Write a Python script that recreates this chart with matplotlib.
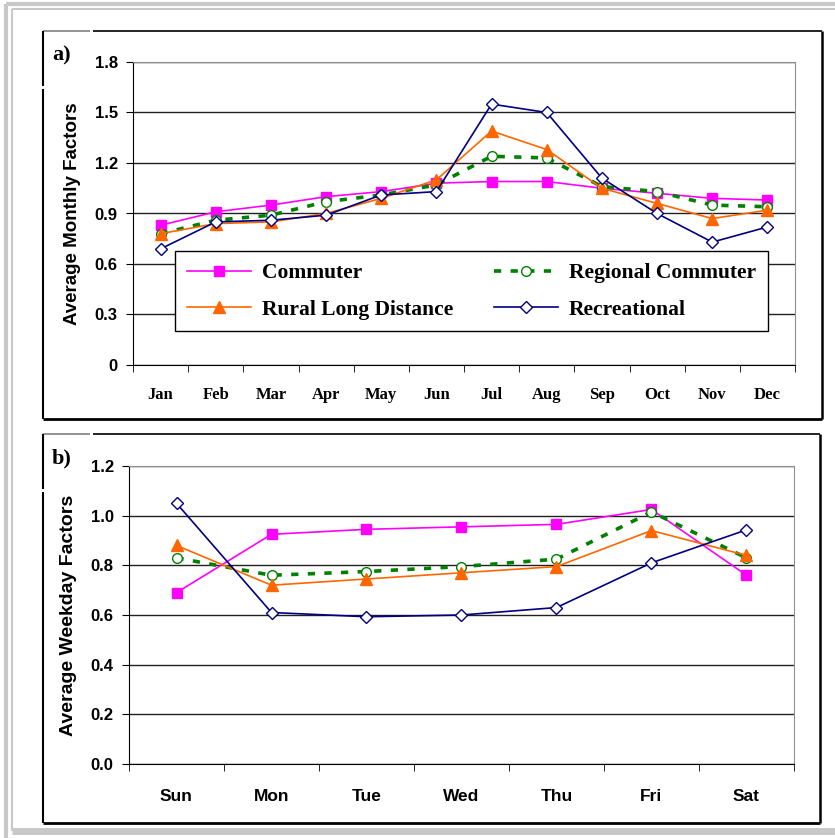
import matplotlib
matplotlib.use("Agg")
import matplotlib.pyplot as plt
from matplotlib.lines import Line2D

# monthly factors (panel a)
months = ['Jan', 'Feb', 'Mar', 'Apr', 'May', 'Jun', 'Jul', 'Aug', 'Sep', 'Oct', 'Nov', 'Dec']
commuter_m = [0.83, 0.91, 0.95, 1.00, 1.03, 1.08, 1.09, 1.09, 1.05, 1.02, 0.99, 0.98]
regional_m = [0.78, 0.86, 0.89, 0.97, 1.01, 1.07, 1.24, 1.23, 1.06, 1.03, 0.95, 0.94]
rural_m = [0.78, 0.84, 0.85, 0.90, 0.99, 1.10, 1.39, 1.28, 1.05, 0.96, 0.87, 0.92]
recreational_m = [0.69, 0.85, 0.86, 0.89, 1.01, 1.03, 1.55, 1.50, 1.11, 0.90, 0.73, 0.82]

# weekday factors (panel b)
days = ['Sun', 'Mon', 'Tue', 'Wed', 'Thu', 'Fri', 'Sat']
commuter_d = [0.69, 0.925, 0.945, 0.955, 0.965, 1.025, 0.76]
regional_d = [0.83, 0.76, 0.775, 0.795, 0.825, 1.015, 0.83]
rural_d = [0.88, 0.72, 0.745, 0.77, 0.795, 0.94, 0.84]
recreational_d = [1.05, 0.61, 0.593, 0.60, 0.63, 0.81, 0.943]

series_names = ['Commuter', 'Regional Commuter', 'Rural Long Distance', 'Recreational']

W, H = 835, 838
fig = plt.figure(figsize=(W / 100, H / 100), dpi=100)


def px_rect(left, top, right, bottom):
    return [left / W, 1 - bottom / H, (right - left) / W, (bottom - top) / H]


def fline(x0, y0, x1, y1, color='black', lw=1.0):
    fig.add_artist(Line2D([x0 / W, x1 / W], [1 - y0 / H, 1 - y1 / H],
                          transform=fig.transFigure, color=color, lw=lw,
                          solid_capstyle='butt'))


# outer gray frame
fline(6, 4, 835, 4, '#c8c8c8', 3)
fline(6, 4, 6, 838, '#c8c8c8', 3)
fline(12, 9, 835, 9, '#c8c8c8', 1.5)
fline(12, 9, 12, 831, '#c8c8c8', 1.5)
fline(12, 831, 835, 831, '#c8c8c8', 5)


def panel_box(l, t, r, b):
    fline(l, t, l + 47, t, '#808080', 1.2)
    fline(l + 50, t, r, t, 'black', 1.2)
    fline(l, t, l, t + 55, 'black', 1.5)
    fline(l, t + 58, l, b, 'black', 1.5)
    fline(r, t, r, b, 'black', 1.8)
    fline(l, b, r, b, 'black', 2)


panel_box(43, 31, 822, 419)
panel_box(43, 434, 820, 823)

sans = ['Liberation Sans Narrow', 'Liberation Sans', 'DejaVu Sans']
serif = ['Liberation Serif', 'DejaVu Serif']

styles = [
    dict(color='#ff00ff', marker='s', ms=7, mfc='#ff00ff', mec='#ff00ff', lw=1.2, ls='-'),
    dict(color='#008000', marker='o', ms=7, mfc='white', mec='#008000', lw=2.6, ls=(0, (2, 2.6))),
    dict(color='#ff6600', marker='^', ms=8, mfc='#ff6600', mec='#ff6600', lw=1.2, ls='-'),
    dict(color='#000080', marker='D', ms=6.5, mfc='white', mec='#000080', lw=1.2, ls='-'),
]


def style_axes(ax, ylim, yticks, fmt):
    ax.set_ylim(*ylim)
    ax.set_yticks(yticks)
    ax.set_yticklabels([fmt.format(v) for v in yticks], family=sans,
                       fontweight='bold', fontsize=12)
    ax.grid(axis='y', color='#202020', lw=1)
    ax.set_axisbelow(True)
    for s in ['top', 'right']:
        ax.spines[s].set_color('#909090')
    for s in ['left', 'bottom']:
        ax.spines[s].set_color('black')
    ax.tick_params(axis='y', length=5, pad=6)
    ax.tick_params(axis='x', which='major', length=0)
    ax.tick_params(axis='x', which='minor', length=5, direction='out')


# panel a
ax1 = fig.add_axes(px_rect(133, 62, 795, 365))
x1 = range(len(months))
lines = []
for vals, st, name in zip([commuter_m, regional_m, rural_m, recreational_m], styles, series_names):
    lines += ax1.plot(x1, vals, label=name, **st)
ax1.set_xlim(-0.5, len(months) - 0.5)
ax1.set_xticks(list(x1))
ax1.set_xticklabels(months, family=serif, fontweight='bold', fontsize=12)
ax1.set_xticks([i + 0.5 for i in range(-1, len(months))], minor=True)
style_axes(ax1, (0, 1.8), [0, 0.3, 0.6, 0.9, 1.2, 1.5, 1.8], '{:g}')
ax1.tick_params(axis='x', which='major', pad=16)
ax1.set_ylabel('Average Monthly Factors', family='Liberation Sans',
               fontweight='bold', fontsize=13.5, labelpad=10)
# row-major legend order: Commuter, Regional / Rural, Recreational
order = [0, 2, 1, 3]
leg = ax1.legend([lines[i] for i in order], [series_names[i] for i in order],
                 ncol=2, loc='lower left', bbox_to_anchor=(0.063, 0.111, 0.896, 0.275),
                 mode='expand', frameon=True, fancybox=False, framealpha=1,
                 edgecolor='black', handlelength=3.0, borderaxespad=0,
                 prop=dict(family=serif, weight='bold', size=15.5),
                 labelspacing=0.75, columnspacing=0.6, handletextpad=0.5,
                 borderpad=0.55)
leg.get_frame().set_linewidth(1.0)
fig.text(52 / W, 1 - 55 / H, 'a)', family=serif, fontweight='bold', fontsize=16,
         va='center', ha='left')

# panel b
ax2 = fig.add_axes(px_rect(129, 466, 794, 764))
x2 = range(len(days))
for vals, st, name in zip([commuter_d, regional_d, rural_d, recreational_d], styles, series_names):
    ax2.plot(x2, vals, label=name, **st)
ax2.set_xlim(-0.5, len(days) - 0.5)
ax2.set_xticks(list(x2))
ax2.set_xticklabels(days, family=sans, fontweight='bold', fontsize=12.5)
ax2.set_xticks([i + 0.5 for i in range(-1, len(days))], minor=True)
style_axes(ax2, (0, 1.2), [0, 0.2, 0.4, 0.6, 0.8, 1.0, 1.2], '{:.1f}')
ax2.tick_params(axis='x', which='major', pad=18)
ax2.set_ylabel('Average Weekday Factors', family='Liberation Sans',
               fontweight='bold', fontsize=14, labelpad=10)
fig.text(52 / W, 1 - 458 / H, 'b)', family=serif, fontweight='bold', fontsize=16,
         va='center', ha='left')

fig.savefig('out.png', dpi=100)
